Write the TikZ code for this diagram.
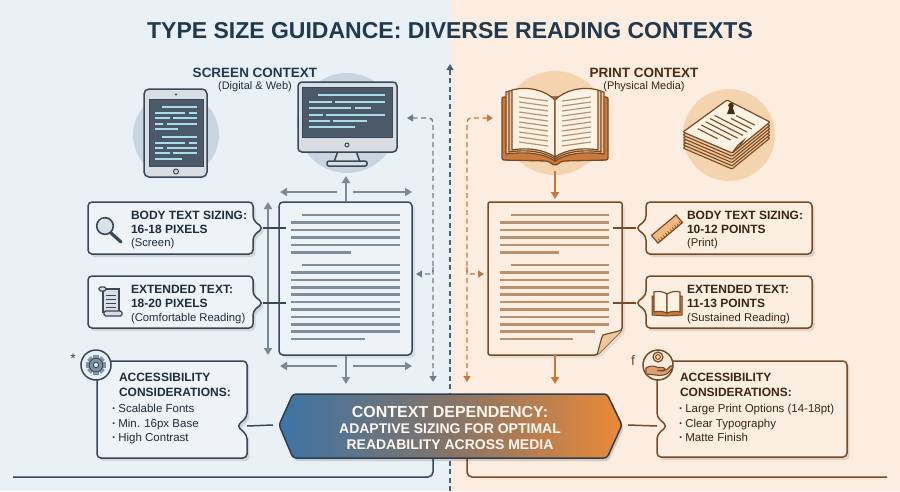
\documentclass[tikz,border=0pt]{standalone}
\usepackage{fontspec}
\setmainfont{Liberation Sans}
\usetikzlibrary{arrows.meta}
\definecolor{bgL}{HTML}{EAF1F6}
\definecolor{bgR}{HTML}{FCEDE0}
\definecolor{navy}{HTML}{1F3A50}
\definecolor{txL}{HTML}{1E2D3C}
\definecolor{txR}{HTML}{3C2413}
\definecolor{brH}{HTML}{4A2B15}
\definecolor{slate}{HTML}{384858}
\definecolor{arrL}{HTML}{7B8896}
\definecolor{lineL}{HTML}{7F8E9D}
\definecolor{boxL}{HTML}{EEF3F7}
\definecolor{brownD}{HTML}{7A4A24}
\definecolor{arrR}{HTML}{C8773A}
\definecolor{lineR}{HTML}{BA916F}
\definecolor{boxR}{HTML}{FCEFE2}
\definecolor{circL}{HTML}{C8D4DF}
\definecolor{circR}{HTML}{F4D4AE}
\definecolor{scr}{HTML}{4B5968}
\definecolor{scrln}{HTML}{A8DDEC}
\definecolor{devc}{HTML}{D8DEE4}
\definecolor{hexL}{HTML}{3C74A6}
\definecolor{hexM}{HTML}{857468}
\definecolor{hexR}{HTML}{EA8A38}
\definecolor{hexO}{HTML}{2F3F4F}
\definecolor{dashB}{HTML}{46607A}
\definecolor{dashG}{HTML}{6E7D8C}
\definecolor{cream}{HTML}{FDF3E4}
\definecolor{tan}{HTML}{EEC79C}
\definecolor{coverc}{HTML}{C97A3C}
\definecolor{gearc}{HTML}{7D93A8}
\newcommand\myfont[1]{\fontsize{#1}{#1}\selectfont}
% callout outlines: x1 y1 x2 y2 pointer-y
\newcommand\pathPR[5]{(#1,#2) -- (#3,#2) -- (#3,#5-8) -- (#3+10,#5) -- (#3,#5+8) -- (#3,#4) -- (#1,#4) -- cycle}
\newcommand\pathPL[5]{(#1,#2) -- (#3,#2) -- (#3,#4) -- (#1,#4) -- (#1,#5+8) -- (#1-10,#5) -- (#1,#5-8) -- cycle}
\newcommand\pathNR[5]{(#1,#2) -- (#3,#2) -- (#3,#5-9) -- (#3-10,#5) -- (#3,#5+9) -- (#3,#4) -- (#1,#4) -- cycle}
\newcommand\pathNL[5]{(#1,#2) -- (#3,#2) -- (#3,#4) -- (#1,#4) -- (#1,#5+9) -- (#1+10,#5) -- (#1,#5-9) -- cycle}
\tikzset{
 tx/.style={inner sep=0pt, outer sep=0pt, anchor=base west},
 hdL/.style={tx, font=\myfont{12}\bfseries, text=txL},
 smL/.style={tx, font=\myfont{11.3}, text=txL},
 hdR/.style={tx, font=\myfont{12}\bfseries, text=txR},
 smR/.style={tx, font=\myfont{11.3}, text=txR},
 blL/.style={tx, font=\myfont{11.5}, text=txL},
 blR/.style={tx, font=\myfont{11.5}, text=txR},
 garrow/.style={draw=arrL, line width=2pt, -{Triangle[length=7pt,width=8pt]}},
 oarrow/.style={draw=arrR, line width=2pt, -{Triangle[length=7pt,width=8pt]}},
 dashtip/.style={-{Triangle[length=6pt,width=7pt]}},
 dashtips/.style={{Triangle[length=6pt,width=7pt]}-{Triangle[length=6pt,width=7pt]}},
 dashgl/.style={draw=dashG, line width=1.4pt, dash pattern=on 5pt off 3.5pt},
 dashor/.style={draw=arrR, line width=1.4pt, dash pattern=on 5pt off 3.5pt},
 boxl/.style={fill=boxL, draw=slate, line width=1.5pt, rounded corners=4pt},
 boxr/.style={fill=boxR, draw=brownD, line width=1.5pt, rounded corners=4pt},
 shad/.style={fill=black, opacity=0.11, shift={(2.5,3)}, rounded corners=4pt},
 docline/.style={line width=2.6pt},
}
\begin{document}
\begin{tikzpicture}[x=1pt,y=-1pt]
\useasboundingbox (0,0) rectangle (900,491);
\fill[bgL] (0,0) rectangle (450,491);
\fill[bgR] (450,0) rectangle (900,491);

% ---------- title and headings
\node[inner sep=0pt, anchor=base, font=\myfont{23}\bfseries, text=navy] (title) at (450,38) {TYPE SIZE GUIDANCE: DIVERSE READING CONTEXTS};
\node[inner sep=0pt, anchor=base, font=\myfont{13.5}\bfseries, text=navy] (scrH) at (255,77) {SCREEN CONTEXT};
\node[inner sep=0pt, anchor=base, font=\myfont{11}, text=txL] (scrS) at (255,89.5) {(Digital \& Web)};
\node[inner sep=0pt, anchor=base, font=\myfont{13.5}\bfseries, text=brH] (prH) at (644,77) {PRINT CONTEXT};
\node[inner sep=0pt, anchor=base, font=\myfont{11}, text=txR] (prS) at (644,89.5) {(Physical Media)};

% ---------- centre divider
\coordinate (divB) at (450,491);
\coordinate (divT) at (450,64);
\draw[draw=dashB, line width=1.3pt, dash pattern=on 5pt off 3.5pt, dashtip] (divB) -- (divT);

% ---------- tablet
\fill[circL] (176,135) circle (43);
\filldraw[fill=devc, draw=slate, line width=1.5pt, rounded corners=5pt] (144,89) rectangle (207,177);
\filldraw[fill=scr, draw=slate, line width=1pt] (149,99) rectangle (203,166);
\fill[slate] (176,94.5) circle (1.1);
\draw[slate, line width=1pt] (176,171.5) circle (2.5);
\foreach \yy/\xa/\xb in {107/162/197, 113/155/185, 113/189/197, 118/155/170, 118/173/197, 124/155/163, 124/167/197, 129/155/178, 137/162/197, 143/155/185, 143/189/197, 148/155/163, 148/167/197, 153/155/170, 153/173/197, 159/155/182}
  \draw[scrln, line width=1.6pt] (\xa,\yy) -- (\xb,\yy);

% ---------- monitor
\fill[circL] (347,123) circle (50);
\filldraw[fill=devc, draw=slate, line width=1.5pt] (338,151) -- (356,151) -- (360,162) -- (334,162) -- cycle;
\filldraw[fill=devc, draw=slate, line width=1.5pt, rounded corners=2pt] (327,161) rectangle (367,166);
\filldraw[fill=devc, draw=slate, line width=1.5pt, rounded corners=4pt] (298,82) rectangle (397,152);
\filldraw[fill=scr, draw=slate, line width=1pt] (302,87) rectangle (392,137);
\draw[slate, line width=1pt] (347,145) circle (2);
\foreach \yy/\xa/\xb in {95/318/385, 102/309/332, 102/335/385, 108/309/351, 108/355/371, 115/309/323, 115/326/385, 121/309/330, 121/333/367, 127/309/355}
  \draw[scrln, line width=1.8pt] (\xa,\yy) -- (\xb,\yy);

% ---------- open book
\fill[circR] (555,123) circle (52);
\filldraw[fill=coverc, draw=brownD, line width=1.3pt, rounded corners=2pt] (502,97) -- (502,160) -- (548,161) -- (555,166) -- (562,161) -- (608,160) -- (608,97) -- cycle;
\foreach \k/\fc in {2/tan, 1/tan, 0/cream} {
  \filldraw[fill=\fc, draw=brownD, line width=1.2pt] (555,100+\k) .. controls (545,90+\k) and (528,86+\k) .. (512-3*\k,90+\k) -- (512-3*\k,150+2*\k) .. controls (528,147+2*\k) and (545,150+2*\k) .. (555,157+2*\k) -- cycle;
  \filldraw[fill=\fc, draw=brownD, line width=1.2pt] (555,100+\k) .. controls (565,90+\k) and (582,86+\k) .. (598+3*\k,90+\k) -- (598+3*\k,150+2*\k) .. controls (582,147+2*\k) and (565,150+2*\k) .. (555,157+2*\k) -- cycle;
}
\foreach \yy in {97,102,107,112,117,122,127,132,137,142}
  {\draw[lineR, line width=1.2pt] (519,\yy) -- (548,\yy+4);
   \draw[lineR, line width=1.2pt] (591,\yy) -- (562,\yy+4);}

% ---------- paper stack
\fill[circR] (729,135) circle (46);
\foreach \d in {16,12.8,9.6,6.4,3.2}
  \filldraw[fill=tan, draw=brownD, line width=1.1pt, rounded corners=1pt] (727,100+\d) -- (770,122+\d) -- (732,153+\d) -- (683,132+\d) -- cycle;
\filldraw[fill=cream, draw=brownD, line width=1.2pt, rounded corners=1pt] (727,100) -- (770,122) -- (732,153) -- (683,132) -- cycle;
\filldraw[fill=tan, draw=brownD, line width=1pt] (732,153) -- (738,145) -- (744,140) .. controls (740,146) .. (732,153);
\foreach \t/\sa/\sb in {0.2/0.42/0.85, 0.3/0.40/0.88, 0.4/0.12/0.88, 0.5/0.12/0.88, 0.6/0.12/0.86, 0.7/0.12/0.8, 0.8/0.14/0.6}
  \draw[brownD, line width=1.1pt] ({727+\sa*43-\t*44},{100+\sa*22+\t*32}) -- ({727+\sb*43-\t*44},{100+\sb*22+\t*32});
\fill[brH] (731,105.5) circle (2.8);
\fill[brH] (729.5,107) -- (732.5,107) -- (735,114) -- (727,114) -- cycle;

% ---------- screen document
\fill[black, opacity=0.08, rounded corners=4pt] (282,205) rectangle (415,358);
\node[draw=slate, fill=boxL, line width=1.5pt, rounded corners=4pt, minimum width=133pt, minimum height=153pt, inner sep=0pt] (docL) at (345.5,278.5) {};
\foreach \yy/\xa/\xb in {215/302/400, 222.5/291/400, 230/291/400, 237.5/291/400, 245/291/400, 252.5/291/351, 265/302/400, 272.4/291/400, 279.8/291/400, 287.2/291/400, 294.6/291/400, 302/291/400, 309.4/291/400, 316.8/291/400, 324.2/291/400, 331.6/291/400, 339/291/365}
  \draw[lineL, docline] (\xa,\yy) -- (\xb,\yy);

% arrows round the screen document
\coordinate (aT) at (346,176);
\coordinate (aB) at (346,384);
\draw[garrow] (docL.north -| aT) -- (aT);
\draw[garrow] (docL.south -| aB) -- (aB);
\draw[garrow] (337,192) -- (280,192);
\draw[garrow] (353,192) -- (412,192);
\draw[garrow] (337,366) -- (280,366);
\draw[garrow] (353,366) -- (412,366);
\draw[draw=arrL, line width=2pt, {Triangle[length=7pt,width=8pt]}-{Triangle[length=7pt,width=8pt]}] (268,202) -- (268,355);

% ---------- print document
\fill[black, opacity=0.08, rounded corners=3pt] (491,205) -- (625,205) -- (625,333) -- (600,358) -- (491,358) -- cycle;
\filldraw[fill=boxR, draw=brownD, line width=1.5pt, rounded corners=2pt] (488,202) -- (622,202) -- (622,330) -- (597,355) -- (488,355) -- cycle;
\coordinate (docR) at (555,278.5);
\foreach \yy/\xa/\xb in {215/511/609, 222.5/500/609, 230/500/609, 237.5/500/609, 245/500/609, 252.5/500/559, 265/511/609, 272.4/500/609, 279.8/500/609, 287.2/500/609, 294.6/500/609, 302/500/609, 309.4/500/609, 316.8/500/609, 324.2/500/609, 331.6/500/595, 339/500/573}
  \draw[lineR, docline] (\xa,\yy) -- (\xb,\yy);
\fill[tan] (597,355) .. controls (600,345) and (601,338) .. (603,335) .. controls (610,333) and (616,332) .. (622,330) -- cycle;
\draw[brownD, line width=1.2pt] (597,355) .. controls (600,345) and (601,338) .. (603,335) .. controls (610,333) and (616,332) .. (622,330);
\draw[oarrow] (555,171) -- (555,199);
\draw[oarrow] (555,355) -- (555,384);

% ---------- dashed context links
\draw[dashgl, dashtips] (407,118) [rounded corners=4pt] -- (433,118) -- (433,382);
\draw[dashgl, dashtip, rounded corners=3pt] (433,267) |- (416,274);
\draw[dashor, dashtips] (493,118) [rounded corners=4pt] -- (467,118) -- (467,382);
\draw[dashor, dashtip, rounded corners=3pt] (467,267) |- (484,274);

% ---------- left callouts
\fill[shad] \pathPR{88}{202}{253}{254}{228};
\draw[boxl] \pathPR{88}{202}{253}{254}{228};
\coordinate (tipA) at (263,228);
\draw[slate, line width=1.5pt] (tipA) -- (docL.west |- tipA) -- ++(8,0);
\node[hdL] (bA1) at (131,219) {BODY TEXT SIZING:};
\node[hdL] (bA2) at (131,233) {16-18 PIXELS};
\node[smL] (bA3) at (131,246.5) {(Screen)};
% magnifier
\draw[slate, line width=3.2pt, line cap=round] (111,233) -- (121,242);
\filldraw[fill=circL!70!white, draw=slate, line width=1.6pt] (105,226) circle (8.3);
\draw[white, line width=1.2pt] (100,222) arc[start angle=200, end angle=250, radius=5];

\fill[shad] \pathPR{88}{276}{253}{328}{303};
\draw[boxl] \pathPR{88}{276}{253}{328}{303};
\coordinate (tipB) at (263,303);
\draw[slate, line width=1.5pt] (tipB) -- (docL.west |- tipB) -- ++(8,0);
\node[hdL] (bB1) at (131,293) {EXTENDED TEXT:};
\node[hdL] (bB2) at (131,307) {18-20 PIXELS};
\node[smL] (bB3) at (131,321) {(Comfortable Reading)};
% scroll
\filldraw[fill=devc, draw=slate, line width=1.3pt] (103,289) rectangle (119,312);
\filldraw[fill=devc, draw=slate, line width=1.3pt, rounded corners=1.5pt] (99,287) rectangle (106,291);
\filldraw[fill=devc, draw=slate, line width=1.3pt, rounded corners=1.5pt] (104,311) rectangle (122,316);
\foreach \yy in {295,299,303,307} \draw[slate, line width=1pt] (106,\yy) -- (116,\yy);

% ---------- right callouts
\fill[shad] \pathPL{646}{202}{812}{254}{228};
\draw[boxr] \pathPL{646}{202}{812}{254}{228};
\coordinate (tipC) at (636,228);
\draw[brownD, line width=1.5pt] (tipC) -- (613,228);
\node[hdR] (bC1) at (687,219) {BODY TEXT SIZING:};
\node[hdR] (bC2) at (687,233) {10-12 POINTS};
\node[smR] (bC3) at (687,246.5) {(Print)};
% ruler
\begin{scope}[shift={(667,229)}, rotate=40]
  \filldraw[fill=tan!80!orange, draw=brownD, line width=1.2pt] (-16,-5) rectangle (16,5);
  \foreach \i in {-13,-10,...,14} \draw[brownD, line width=0.6pt] (\i,5) -- (\i,2);
\end{scope}

\fill[shad] \pathPL{646}{276}{812}{328}{303};
\draw[boxr] \pathPL{646}{276}{812}{328}{303};
\coordinate (tipD) at (636,303);
\draw[brownD, line width=1.5pt] (tipD) -- (613,303);
\node[hdR] (bD1) at (687,293) {EXTENDED TEXT:};
\node[hdR] (bD2) at (687,307) {11-13 POINTS};
\node[smR] (bD3) at (687,321) {(Sustained Reading)};
% small book
\filldraw[fill=coverc, draw=brownD, line width=1pt] (652,296) -- (652,315) -- (667,316) -- (682,315) -- (682,296) -- cycle;
\filldraw[fill=cream, draw=brownD, line width=1.2pt] (667,294) .. controls (662,291) and (658,291) .. (654,292) -- (654,312) .. controls (658,311) and (662,311) .. (667,313) -- cycle;
\filldraw[fill=cream, draw=brownD, line width=1.2pt] (667,294) .. controls (672,291) and (676,291) .. (680,292) -- (680,312) .. controls (676,311) and (672,311) .. (667,313) -- cycle;

% ---------- hexagon
\coordinate (hexW) at (279,425);
\coordinate (hexE) at (622,425);
\coordinate (hexSL) at (433,458);
\coordinate (hexSR) at (467,458);
\draw[slate, line width=1.5pt, rounded corners=5pt] (hexSL) -- (433,477) -- (13,477);
\draw[brownD, line width=1.5pt, rounded corners=5pt] (hexSR) -- (467,477) -- (887,477);
\fill[black, opacity=0.15, shift={(2,3)}, rounded corners=3pt] (279,425) -- (293,394) -- (607,394) -- (622,425) -- (607,458) -- (293,458) -- cycle;
\shadedraw[left color=hexL, right color=hexR, middle color=hexM, draw=hexO, line width=1.5pt, rounded corners=3pt] (hexW) -- (293,394) -- (607,394) -- (hexE) -- (607,458) -- (293,458) -- cycle;
\node[inner sep=0pt, anchor=base, font=\myfont{16}\bfseries, text=white!94!orange] (hx1) at (450,417) {CONTEXT DEPENDENCY:};
\node[inner sep=0pt, anchor=base, font=\myfont{14}\bfseries, text=white!94!orange] (hx2) at (450,433) {ADAPTIVE SIZING FOR OPTIMAL};
\node[inner sep=0pt, anchor=base, font=\myfont{14}\bfseries, text=white!94!orange] (hx3) at (450,449) {READABILITY ACROSS MEDIA};

% ---------- accessibility left
\fill[shad] \pathNR{97}{361}{247}{458}{426};
\draw[boxl] \pathNR{97}{361}{247}{458}{426};
\draw[slate, line width=1.5pt] (247,426) -- ([xshift=-6pt]hexW);
\filldraw[fill=bgL, draw=slate, line width=1.5pt] (96,365) circle (15);
\foreach \ang in {0,45,...,315}
  \fill[gearc, rotate around={\ang:(96,365)}] (93.4,355.2) rectangle (98.6,360);
\filldraw[fill=gearc, draw=slate, line width=0.8pt] (96,365) circle (6.8);
\filldraw[fill=bgL, draw=slate, line width=1pt] (96,365) circle (2.7);
\node[inner sep=0pt, anchor=base, font=\myfont{14}, text=slate] (ast) at (73,363) {*};
\node[hdL] (aL1) at (119,381) {ACCESSIBILITY};
\node[hdL] (aL2) at (119,396) {CONSIDERATIONS:};
\node[blL] (aL3) at (112,412.5) {{\bfseries\textperiodcentered}\hspace{2.5pt}Scalable Fonts};
\node[blL] (aL4) at (112,427) {{\bfseries\textperiodcentered}\hspace{2.5pt}Min. 16px Base};
\node[blL] (aL5) at (112,441.5) {{\bfseries\textperiodcentered}\hspace{2.5pt}High Contrast};

% ---------- accessibility right
\fill[shad] \pathNL{657}{361}{847}{457}{426};
\draw[boxr] \pathNL{657}{361}{847}{457}{426};
\draw[brownD, line width=1.5pt] ([xshift=6pt]hexE) -- (657,426);
\filldraw[fill=bgR, draw=brownD, line width=1.5pt] (658,365) circle (15);
\filldraw[fill=circR, draw=brownD, line width=1.2pt] (658,357) circle (5);
\draw[brownD, line width=0.9pt] (658,357) circle (2.4);
\filldraw[fill=arrR!70!white, draw=brownD, line width=1.1pt] (646,368) .. controls (650,365.5) and (654,365.5) .. (658,367.5) -- (663,367.5) .. controls (665.5,368.5) .. (663,370.5) -- (657,370.5) -- (663,371) .. controls (667,369.5) .. (670.5,366) .. controls (673,365.5) .. (672,368.5) .. controls (667,374.5) .. (660,375.5) -- (651,374.5) -- (646,374) -- cycle;
\node[inner sep=0pt, anchor=base, font=\myfont{14}, text=brownD] (fch) at (633,365) {f};
\node[hdR] (aR1) at (680,381) {ACCESSIBILITY};
\node[hdR] (aR2) at (680,396) {CONSIDERATIONS:};
\node[blR] (aR3) at (679,412.5) {{\bfseries\textperiodcentered}\hspace{2.5pt}Large Print Options (14-18pt)};
\node[blR] (aR4) at (679,427) {{\bfseries\textperiodcentered}\hspace{2.5pt}Clear Typography};
\node[blR] (aR5) at (679,441.5) {{\bfseries\textperiodcentered}\hspace{2.5pt}Matte Finish};
\end{tikzpicture}
\end{document}
